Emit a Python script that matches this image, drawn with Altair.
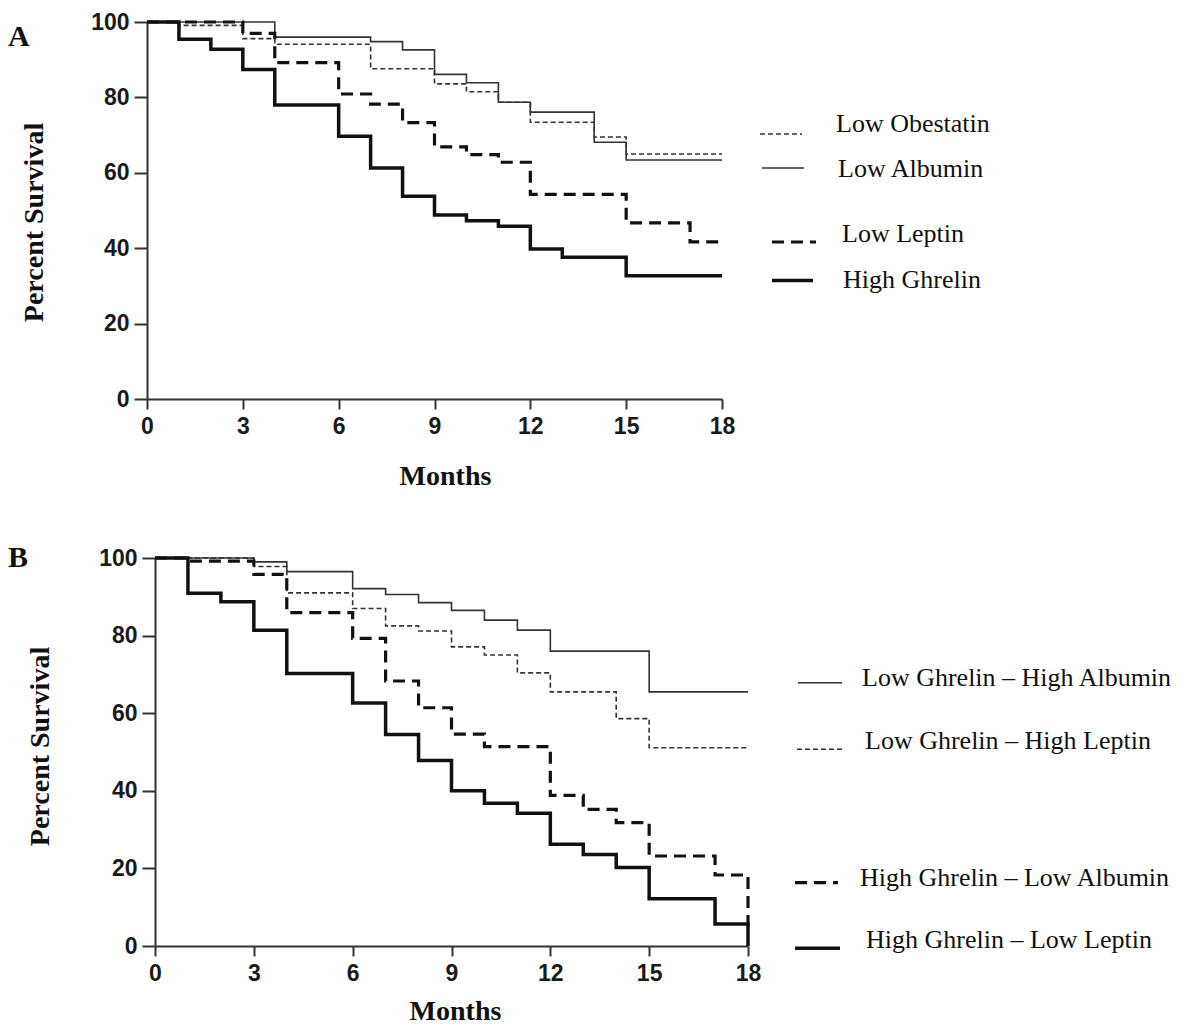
import altair as alt
import pandas as pd

# ---------------- data ----------------
month_ticks = [0, 3, 6, 9, 12, 15, 18]
pct_ticks = [0, 20, 40, 60, 80, 100]

# Panel A
a_labels = ["Low Obestatin", "Low Albumin", "Low Leptin", "High Ghrelin"]
a_obestatin_t = [0, 1, 3, 4, 7, 9, 10, 11, 12, 14, 15, 18]
a_obestatin_s = [100, 99.1, 95.6, 94.1, 87.6, 83.6, 81.5, 78.7, 73.4, 69.5, 65.0, 65.0]
a_albumin_t = [0, 4, 7, 8, 9, 10, 11, 12, 14, 15, 18]
a_albumin_s = [100, 96.0, 94.8, 92.6, 86.1, 83.9, 78.7, 76.1, 68.1, 63.4, 63.4]
a_leptin_t = [0, 3, 4, 6, 7, 8, 9, 10, 11, 12, 15, 17, 18]
a_leptin_s = [100, 97.0, 89.2, 80.9, 78.2, 73.3, 66.9, 64.8, 62.8, 54.3, 46.7, 41.7, 41.7]
a_ghrelin_t = [0, 1, 2, 3, 4, 6, 7, 8, 9, 10, 11, 12, 13, 15, 18]
a_ghrelin_s = [100, 95.4, 92.8, 87.4, 78.0, 69.7, 61.3, 53.8, 48.8, 47.3, 45.8, 39.8, 37.6, 32.7, 32.7]

# Panel B
b_labels = ["Low Ghrelin \u2013 High Albumin", "Low Ghrelin \u2013 High Leptin",
            "High Ghrelin \u2013 Low Albumin", "High Ghrelin \u2013 Low Leptin"]
b_lg_ha_t = [0, 3, 4, 6, 7, 8, 9, 10, 11, 12, 15, 18]
b_lg_ha_s = [100, 99.0, 96.5, 92.1, 90.6, 88.5, 86.5, 84.0, 81.4, 76.0, 65.5, 65.5]
b_lg_hl_t = [0, 3, 4, 6, 7, 8, 9, 10, 11, 12, 14, 15, 18]
b_lg_hl_s = [100, 97.8, 91.0, 87.0, 82.5, 81.2, 77.1, 75.0, 70.4, 65.5, 58.6, 51.1, 51.1]
b_hg_la_t = [0, 1, 3, 4, 6, 7, 8, 9, 10, 12, 13, 14, 15, 17, 18]
b_hg_la_s = [100, 99.2, 95.8, 85.9, 79.3, 68.3, 61.4, 54.6, 51.4, 38.8, 35.2, 31.8, 23.2, 18.3, 5.0]
b_hg_ll_t = [0, 1, 2, 3, 4, 6, 7, 8, 9, 10, 11, 12, 13, 14, 15, 17, 18]
b_hg_ll_s = [100, 90.9, 88.7, 81.4, 70.2, 62.6, 54.5, 47.8, 40.0, 36.8, 34.2, 26.2, 23.6, 20.2, 12.2, 5.7, 0]

# ---------------- styles ----------------
THIN_SOLID = dict(strokeWidth=1.6, color="#333333")
THIN_DASH = dict(strokeWidth=1.6, color="#333333", strokeDash=[5, 3])
THICK_DASH = dict(strokeWidth=3.2, color="#111111", strokeDash=[12, 7])
THICK_SOLID = dict(strokeWidth=3.5, color="#111111")

SERIF = "Liberation Serif"
SANS = "Liberation Sans"


def axis_common():
    return dict(grid=False, domainColor="#333333", domainWidth=2, tickColor="#333333",
                tickWidth=2, labelFont=SANS, labelFontSize=23, labelFontWeight="bold",
                labelColor="#1a1a1a", labelFlush=False, labelOverlap=False,
                titleFont=SERIF, titleFontWeight="bold", titleColor="#111111")


def make_panel(series, legend, panel_letter, letter_y, width, height, x_range, y_axis_offset,
               xtitle_pos, ytitle_pos):
    x_axis = alt.Axis(values=month_ticks, title="Months", tickSize=10, labelPadding=6,
                      titleFontSize=28, titleX=xtitle_pos[0], titleY=xtitle_pos[1],
                      titleAlign="center", titleBaseline="middle", **axis_common())
    y_axis = alt.Axis(values=pct_ticks, title="Percent  Survival", tickSize=13, labelPadding=5,
                      offset=y_axis_offset, titleFontSize=28, titleAngle=270,
                      titleX=ytitle_pos[0], titleY=ytitle_pos[1], titleAlign="center",
                      titleBaseline="middle", **axis_common())
    if x_range is not None:
        xs = alt.Scale(domain=[0, 18], nice=False, zero=False, range=x_range)
    else:
        xs = alt.Scale(domain=[0, 18], nice=False, zero=False)
    ys = alt.Scale(domain=[0, 100], nice=False)

    layers = []
    for t, s, name, style in series:
        df = pd.DataFrame({"Months": t, "Survival": s, "Group": name})
        layers.append(
            alt.Chart(df).mark_line(interpolate="step-after", **style).encode(
                x=alt.X("Months:Q", scale=xs, axis=x_axis),
                y=alt.Y("Survival:Q", scale=ys, axis=y_axis),
            )
        )
    for name, style, rx1, rx2, ry, tx, ty in legend:
        ldf = pd.DataFrame({"label": [name]})
        layers.append(
            alt.Chart(ldf).mark_rule(**style).encode(
                x=alt.value(rx1), x2=alt.value(rx2), y=alt.value(ry))
        )
        layers.append(
            alt.Chart(ldf).mark_text(align="left", baseline="middle", font=SERIF,
                                     fontSize=26, color="#111111").encode(
                x=alt.value(tx), y=alt.value(ty), text="label:N")
        )
    pdf = pd.DataFrame({"label": [panel_letter]})
    layers.append(
        alt.Chart(pdf).mark_text(align="left", baseline="middle", font=SERIF, fontSize=30,
                                 fontWeight="bold", color="#111111").encode(
            x=alt.value(-139), y=alt.value(letter_y), text="label:N")
    )
    return alt.layer(*layers).properties(width=width, height=height)


series_a = [
    (a_obestatin_t, a_obestatin_s, a_labels[0], THIN_DASH),
    (a_albumin_t, a_albumin_s, a_labels[1], THIN_SOLID),
    (a_leptin_t, a_leptin_s, a_labels[2], THICK_DASH),
    (a_ghrelin_t, a_ghrelin_s, a_labels[3], THICK_SOLID),
]
legend_a = [
    (a_labels[0], THIN_DASH, 613, 655, 112, 689, 102),
    (a_labels[1], THIN_SOLID, 615, 657, 146, 691, 147),
    (a_labels[2], THICK_DASH, 625, 669, 220, 695, 212),
    (a_labels[3], THICK_SOLID, 625, 666, 258.5, 696, 258),
]
series_b = [
    (b_lg_ha_t, b_lg_ha_s, b_labels[0], THIN_SOLID),
    (b_lg_hl_t, b_lg_hl_s, b_labels[1], THIN_DASH),
    (b_hg_la_t, b_hg_la_s, b_labels[2], THICK_DASH),
    (b_hg_ll_t, b_hg_ll_s, b_labels[3], THICK_SOLID),
]
legend_b = [
    (b_labels[0], THIN_SOLID, 651, 695, 124.7, 715, 119.7),
    (b_labels[1], THIN_DASH, 650, 695, 191.3, 718, 183),
    (b_labels[2], THICK_DASH, 648, 691, 324.7, 713, 319.7),
    (b_labels[3], THICK_SOLID, 648, 693, 390.3, 719, 382.3),
]

panel_a = make_panel(series_a, legend_a, "A", 15, 575, 377, None, 0, (298, 77), (-113, 200))
panel_b = make_panel(series_b, legend_b, "B", 0, 601, 388, [8, 601], -8, (308, 65), (-115, 188))

chart = alt.vconcat(panel_a, panel_b, spacing=53).properties(
    padding={"top": 3, "left": 0, "right": 0, "bottom": 0}
).configure_view(stroke=None)

chart.save("out.html", embed_options={"renderer": "svg", "actions": False})
